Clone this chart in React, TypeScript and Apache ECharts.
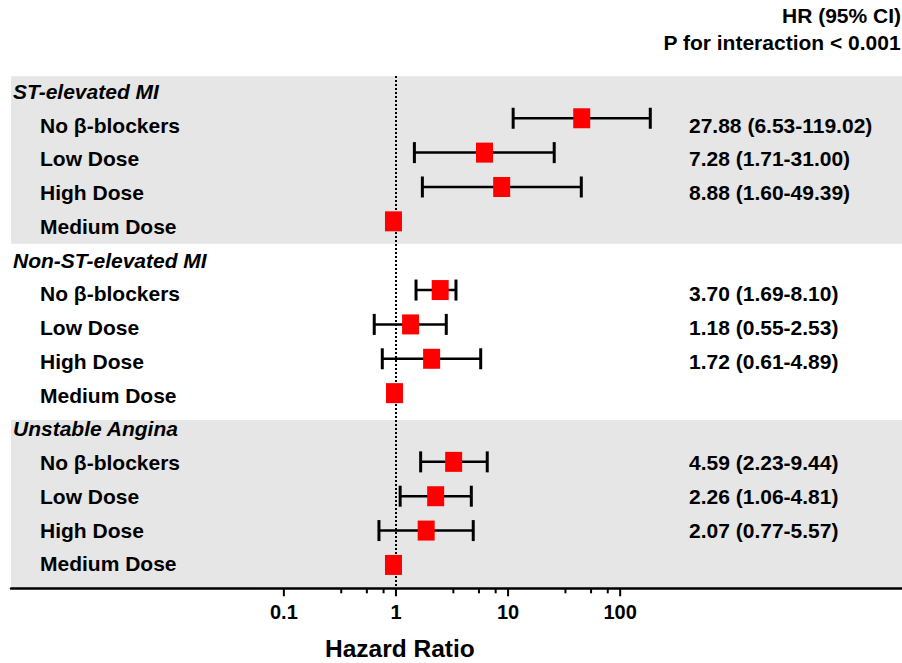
import React, { useEffect, useRef } from 'react';
import * as echarts from 'echarts';

// ---- data ----
const groupTitles = ['ST-elevated MI', 'Non-ST-elevated MI', 'Unstable Angina'];
const doseLabels = ['No β-blockers', 'Low Dose', 'High Dose', 'Medium Dose'];

// hazard ratios as plotted (point, lower and upper CI bound)
const stHR = [45.4, 6.16, 8.77, 0.95];
const stLow = [11.1, 1.46, 1.72, null];
const stHigh = [185.6, 25.8, 45.0, null];
const nstHR = [2.48, 1.35, 2.08, 0.97];
const nstLow = [1.51, 0.64, 0.755, null];
const nstHigh = [3.43, 2.81, 5.7, null];
const uaHR = [3.27, 2.26, 1.86, 0.95];
const uaLow = [1.66, 1.09, 0.705, null];
const uaHigh = [6.52, 4.7, 4.89, null];

const stText = ['27.88 (6.53-119.02)', '7.28 (1.71-31.00)', '8.88 (1.60-49.39)', ''];
const nstText = ['3.70 (1.69-8.10)', '1.18 (0.55-2.53)', '1.72 (0.61-4.89)', ''];
const uaText = ['4.59 (2.23-9.44)', '2.26 (1.06-4.81)', '2.07 (0.77-5.57)', ''];

const majorTicks = [0.1, 1, 10, 100];
const minorTicks = [0.325, 0.55, 0.775, 3.25, 5.5, 7.75, 32.5, 55, 77.5];
const headerLines = ['HR (95% CI)', 'P for interaction < 0.001'];
const axisTitle = 'Hazard Ratio';
const refValue = 1;

// ---- build ----
const FONT = '"Liberation Sans", Arial, Helvetica, sans-serif';
const lg = (v: number) => Math.log10(v);

const groups = [
  { hr: stHR, lo: stLow, hi: stHigh, txt: stText },
  { hr: nstHR, lo: nstLow, hi: nstHigh, txt: nstText },
  { hr: uaHR, lo: uaLow, hi: uaHigh, txt: uaText },
];

const X_MIN = -3.434;
const X_MAX = 4.514;
const Y_MIN = -0.23;
const Y_MAX = 14.68;

const markData: number[][] = [];
const labelData: number[][] = [];
const labelTexts: string[] = [];
const valueTexts: string[] = [];
groups.forEach((g, gi) => {
  const base = gi * 5;
  labelData.push([0, base, 1]);
  labelTexts.push(groupTitles[gi]);
  valueTexts.push('');
  g.hr.forEach((v, i) => {
    const row = base + 1 + i;
    const has = g.lo[i] != null && g.hi[i] != null;
    markData.push([
      lg(v),
      row,
      has ? lg(g.lo[i] as number) : lg(v),
      has ? lg(g.hi[i] as number) : lg(v),
      has ? 1 : 0,
    ]);
    labelData.push([0, row, 0]);
    labelTexts.push(doseLabels[i]);
    valueTexts.push(g.txt[i]);
  });
});

// tick marks: [log value, axis position, tick length kind]
const tickData: number[][] = [
  ...majorTicks.map((v) => [lg(v), Y_MAX, 1]),
  ...minorTicks.map((v) => [lg(v), Y_MAX, 0]),
];

const bands = [0, 2].map((gi) => [
  { yAxis: gi * 5 - 0.22 },
  { yAxis: gi * 5 + 4.65 + (gi === 2 ? 0.03 : 0) },
]);

export default function App() {
  const ref = useRef<HTMLDivElement>(null);
  useEffect(() => {
    document.body.style.margin = '0';
    const chart = echarts.init(ref.current!, undefined, { renderer: 'svg' });
    const textStyle = (text: string, extra: any = {}) => ({
      text,
      fill: '#000',
      fontFamily: FONT,
      fontWeight: 'bold',
      fontSize: 21,
      align: 'left',
      verticalAlign: 'middle',
      ...extra,
    });
    const option: any = {
      animation: false,
      backgroundColor: '#ffffff',
      grid: { left: 11, right: 0, top: 76, bottom: 74.7, containLabel: false },
      xAxis: {
        type: 'value',
        min: X_MIN,
        max: X_MAX,
        axisLine: { show: true, onZero: false, lineStyle: { color: '#000', width: 2.5 } },
        axisTick: { show: false },
        axisLabel: {
          show: true,
          customValues: majorTicks.map(lg),
          formatter: (v: number) => String(parseFloat(Math.pow(10, v).toPrecision(3))),
          color: '#000',
          fontFamily: FONT,
          fontWeight: 'bold',
          fontSize: 20,
          lineHeight: 20,
          margin: 14,
        },
        splitLine: { show: false },
        z: 10,
      },
      yAxis: [
        { type: 'value', inverse: true, min: Y_MIN, max: Y_MAX, show: false },
        { type: 'value', inverse: true, min: -0.459, max: 14.72, show: false },
      ],
      series: [
        {
          type: 'scatter',
          xAxisIndex: 0,
          yAxisIndex: 0,
          data: [],
          z: 1,
          silent: true,
          markArea: {
            silent: true,
            itemStyle: { color: '#e6e6e6' },
            data: bands,
          },
        },
        {
          type: 'scatter',
          xAxisIndex: 0,
          yAxisIndex: 0,
          data: [],
          z: 3,
          silent: true,
          markLine: {
            silent: true,
            symbol: 'none',
            label: { show: false },
            lineStyle: { color: '#000', width: 2, type: [2, 2] },
            data: [{ xAxis: lg(refValue) }],
          },
        },
        {
          // major and minor ticks of the log axis
          type: 'custom',
          xAxisIndex: 0,
          yAxisIndex: 0,
          z: 6,
          silent: true,
          clip: false,
          encode: { x: 0, y: 1 },
          data: tickData,
          renderItem: (params: any, api: any) => {
            const p = api.coord([api.value(0), api.value(1)]);
            const len = api.value(2) === 1 ? 8 : 5;
            return {
              type: 'line',
              shape: { x1: p[0], y1: p[1], x2: p[0], y2: p[1] + len },
              style: { stroke: '#000', lineWidth: 2 },
            };
          },
        },
        {
          type: 'custom',
          xAxisIndex: 0,
          yAxisIndex: 1,
          z: 4,
          silent: true,
          encode: { x: 0, y: 1 },
          data: labelData,
          renderItem: (params: any, api: any) => {
            const row = api.value(1);
            const isTitle = api.value(2) === 1;
            const y = api.coord([0, row])[1];
            const children: any[] = [
              {
                type: 'text',
                x: isTitle ? 13 : 40,
                y,
                style: textStyle(labelTexts[params.dataIndex], {
                  fontStyle: isTitle ? 'italic' : 'normal',
                }),
              },
            ];
            const vt = valueTexts[params.dataIndex];
            if (vt) {
              children.push({ type: 'text', x: 689, y, style: textStyle(vt) });
            }
            return { type: 'group', children };
          },
        },
        {
          type: 'custom',
          xAxisIndex: 0,
          yAxisIndex: 0,
          z: 5,
          silent: true,
          encode: { x: [0, 2, 3], y: 1 },
          data: markData,
          renderItem: (params: any, api: any) => {
            const hr = api.value(0);
            const row = api.value(1);
            const lo = api.value(2);
            const hi = api.value(3);
            const has = api.value(4) === 1;
            const p = api.coord([hr, row]);
            const y = p[1];
            const children: any[] = [];
            if (has) {
              const x0 = api.coord([lo, row])[0];
              const x1 = api.coord([hi, row])[0];
              children.push({
                type: 'line',
                shape: { x1: x0, y1: y, x2: x1, y2: y },
                style: { stroke: '#000', lineWidth: 2.5 },
              });
              [x0, x1].forEach((cx) =>
                children.push({
                  type: 'line',
                  shape: { x1: cx, y1: y - 10.5, x2: cx, y2: y + 10.5 },
                  style: { stroke: '#000', lineWidth: 3 },
                })
              );
            }
            children.push({
              type: 'rect',
              shape: { x: p[0] - 8.5, y: y - 10, width: 17, height: 20 },
              style: { fill: '#ff0000' },
            });
            return { type: 'group', children };
          },
        },
      ],
      graphic: [
        {
          type: 'text',
          right: 1,
          top: 5,
          style: {
            text: headerLines[0],
            fill: '#000',
            fontFamily: FONT,
            fontWeight: 'bold',
            fontSize: 21,
            align: 'right',
          },
        },
        {
          type: 'text',
          right: 1,
          top: 32,
          style: {
            text: headerLines[1],
            fill: '#000',
            fontFamily: FONT,
            fontWeight: 'bold',
            fontSize: 21,
            align: 'right',
          },
        },
        {
          type: 'text',
          left: 325,
          top: 636,
          style: {
            text: axisTitle,
            fill: '#000',
            fontFamily: FONT,
            fontWeight: 'bold',
            fontSize: 24.5,
          },
        },
      ],
    };
    chart.setOption(option);
    return () => chart.dispose();
  }, []);
  return (
    <div
      ref={ref}
      style={{ position: 'absolute', left: 0, top: 0, width: 902, height: 663 }}
    />
  );
}
